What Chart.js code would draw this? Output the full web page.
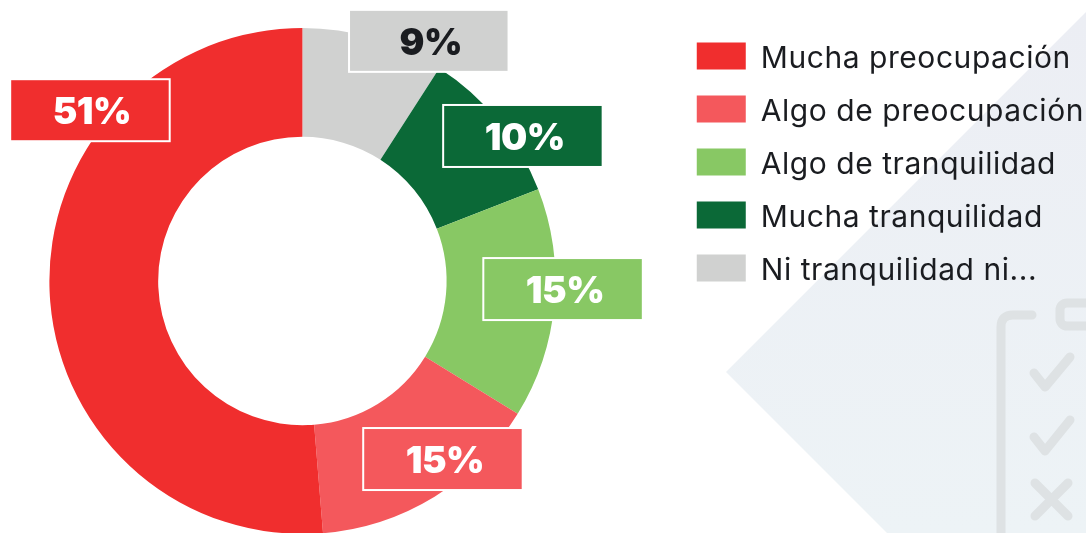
<!DOCTYPE html>
<html><head><meta charset="utf-8">
<style>
html,body{margin:0;padding:0;background:#fff;overflow:hidden}
#wrap{position:relative;width:1086px;height:533px;overflow:hidden}
#bg{position:absolute;left:0;top:0}
canvas{position:absolute;left:-69px;top:0}
</style>
<script src="https://cdn.jsdelivr.net/npm/chart.js@4"></script>
</head><body>
<div id="wrap">
<svg id="bg" width="1086" height="533" viewBox="0 0 1086 533">
<defs><linearGradient id="g" x1="0" y1="0" x2="0" y2="1"><stop offset="0" stop-color="#eceef4"/><stop offset="1" stop-color="#edf3f6"/></linearGradient></defs>
<polygon points="1086,12 726,372 887,533 1086,533" fill="url(#g)"/>
<g fill="none" stroke="#dee2e4" stroke-width="9" stroke-linecap="round" stroke-linejoin="round">
<path d="M1001,540 V327 Q1001,315 1013,315 H1032"/>
<rect x="1060" y="303" width="50" height="23" rx="7"/>
<path d="M1034,373 L1045,387 L1070,357"/>
<path d="M1034,437 L1045,451 L1070,420"/>
<path d="M1035,483 L1068,516 M1068,483 L1035,516"/>
</g></svg>
<canvas id="c" width="1163" height="544"></canvas>
</div>
<script>
const categories=['Ni tranquilidad ni...','Mucha tranquilidad','Algo de tranquilidad','Algo de preocupación','Mucha preocupación'];
const values=[9.1,10,14.7,14.9,51.3];
const colors=['#d0d1d0','#0b6937','#88c864','#f4585c','#f02e2e'];
const labelColors=['#1a1c20','#ffffff','#ffffff','#ffffff','#ffffff'];
// label box offset from each slice's centre point
const labelOffsets=[[70.4,-49.6],[66.7,-19.4],[62.9,-10],[36.8,8.7],[-14,-178.9]];
const FONT='Inter, "Open Sans", sans-serif';
const LEGEND_SPACING='0.55px';
const boxLabels={id:'boxLabels',
 beforeLayout(chart){chart.ctx.letterSpacing=LEGEND_SPACING;},
 beforeDraw(chart){chart.ctx.letterSpacing=LEGEND_SPACING;},
 afterLayout(chart){
  const lg=chart.legend;
  if(lg._wrapped)return;
  lg._wrapped=true;
  const d=lg.draw.bind(lg),c=chart.ctx;
  lg.draw=function(){
    const ft=c.fillText;
    c.fillText=function(t,x,y,m){return m===undefined?ft.call(c,t,x,y+2.5):ft.call(c,t,x,y+2.5,m);};
    d();
    delete c.fillText;
  };
 },
 afterDatasetsDraw(chart){
  const {ctx}=chart,arcs=chart.getDatasetMeta(0).data;
  arcs.forEach((arc,i)=>{
    const p=arc.getCenterPoint();
    const cx=p.x+labelOffsets[i][0],cy=p.y+labelOffsets[i][1];
    const w=159.5,h=62;
    ctx.save();
    ctx.fillStyle=colors[i];
    ctx.fillRect(cx-w/2,cy-h/2,w,h);
    ctx.strokeStyle='#fff';ctx.lineWidth=2;
    ctx.strokeRect(cx-w/2,cy-h/2,w,h);
    ctx.fillStyle=labelColors[i];
    ctx.letterSpacing='-0.5px';
    ctx.font='900 37px '+FONT;
    ctx.textAlign='center';ctx.textBaseline='middle';
    ctx.fillText(Math.round(values[i])+'%',cx+2,cy+3);
    ctx.restore();
  });
 }};
new Chart(document.getElementById('c'),{
  type:'doughnut',
  data:{labels:categories,datasets:[{data:values,backgroundColor:colors,borderWidth:0}]},
  plugins:[boxLabels],
  options:{
    responsive:false,animation:false,cutout:'57%',radius:253,
    layout:{padding:{top:18}},
    plugins:{
      tooltip:{enabled:false},
      legend:{position:'right',align:'start',reverse:true,
        labels:{boxWidth:49,boxHeight:27,padding:23,color:'#1a1c20',
          font:{family:FONT,size:30,weight:'400'}}}
    }
  }
});
</script>
</body></html>
